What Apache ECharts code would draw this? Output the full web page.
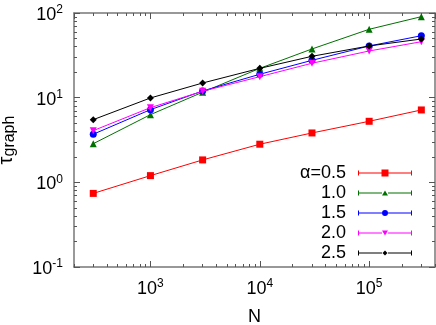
<!DOCTYPE html>
<html>
<head>
<meta charset="utf-8">
<script src="https://cdn.jsdelivr.net/npm/echarts@6/dist/echarts.min.js"></script>
<style>
html,body{margin:0;padding:0;background:#fff;}
#c{width:436px;height:325px;}
</style>
</head>
<body>
<div id="c"></div>
<script>
// ---- data ----
var N = [300, 1000, 3000, 10000, 30000, 100000, 300000];
var seriesNames = ['α=0.5', '1.0', '1.5', '2.0', '2.5'];
var tau05 = [0.74, 1.2, 1.84, 2.82, 3.83, 5.26, 7.16];
var tau10 = [2.86, 6.3, 11.6, 22.2, 37.6, 64.2, 90.5];
var tau15 = [3.70, 7.22, 12.0, 18.9, 27.6, 40.8, 53.9];
var tau20 = [4.08, 7.62, 11.9, 17.7, 25.5, 35.6, 45.8];
var tau25 = [5.50, 9.92, 14.9, 22.2, 30.8, 40.8, 49.3];
var xMinorTicks = [200, 300, 400, 500, 600, 700, 800, 900, 2000, 3000, 4000, 5000, 6000, 7000, 8000, 9000,
  20000, 30000, 40000, 50000, 60000, 70000, 80000, 90000, 200000, 300000, 400000];
var yMinorTicks = [0.2, 0.3, 0.4, 0.5, 0.6, 0.7, 0.8, 0.9, 2, 3, 4, 5, 6, 7, 8, 9, 20, 30, 40, 50, 60, 70, 80, 90];

var colors = ['#ff0000', '#007000', '#0000ff', '#ff00ff', '#000000'];
var symbols = ['rect', 'triangle', 'circle', 'triangle', 'diamond'];
var symbolRot = [0, 0, 0, 180, 0];
var symbolSizes = [7, 7, 7, 7, 7];
var allData = [tau05, tau10, tau15, tau20, tau25];

var capL = 'M0 1H1V6H0Z M1 3H24V4H1Z M30 3H53V4H30Z M53 1H54V6H53Z ';
var legendIcons = [
  'path://' + capL + 'M23.5 0H30.5V7H23.5Z',
  'path://' + capL + 'M24 6L27 0.8L30 6Z',
  'path://' + capL + 'M30 3.5A3 3 0 1 1 24 3.5A3 3 0 1 1 30 3.5Z',
  'path://' + capL + 'M24 1L30 1L27 6.2Z',
  'path://' + capL + 'M27 1L29.5 3.5L27 6L24.5 3.5Z'
];

function pairs(xs, ys) { return xs.map(function (x, i) { return [x, ys[i]]; }); }
function expLabel(v) {
  var e = Math.round(Math.log10(v));
  return '{a|10}{b|' + e + '}';
}
var labelRich = {
  a: { fontSize: 18, lineHeight: 22, fontFamily: 'Liberation Sans', color: '#000' },
  b: { fontSize: 12, lineHeight: 12, verticalAlign: 'top', fontFamily: 'Liberation Sans', color: '#000' }
};
var frame = { show: true, onZero: false, lineStyle: { color: '#777', width: 1.5 } };
var tickColor = '#555';

function xAx(pos, major, withLabel) {
  var ax = {
    type: 'log', min: 200, max: 400000, position: pos, gridIndex: 0,
    axisLine: major ? frame : { show: false },
    axisTick: { show: true, inside: true, length: major ? 6 : 3, lineStyle: { color: tickColor, width: 1 } },
    splitLine: { show: false },
    axisLabel: { show: false }
  };
  if (!major) ax.axisTick.customValues = xMinorTicks;
  if (withLabel) {
    ax.axisLabel = { show: true, margin: 11, showMinLabel: false, showMaxLabel: false, formatter: expLabel, rich: labelRich };
    ax.name = 'N';
    ax.nameLocation = 'middle';
    ax.nameGap = 41;
    ax.nameTextStyle = { fontSize: 18, fontFamily: 'Liberation Sans', color: '#000' };
  }
  return ax;
}
function yAx(pos, major, withLabel) {
  var ax = {
    type: 'log', min: 0.1, max: 100, position: pos, gridIndex: 0,
    axisLine: major ? frame : { show: false },
    axisTick: { show: true, inside: true, length: major ? 6 : 3, lineStyle: { color: tickColor, width: 1 } },
    splitLine: { show: false },
    axisLabel: { show: false }
  };
  if (!major) ax.axisTick.customValues = yMinorTicks;
  if (withLabel) {
    ax.axisLabel = { show: true, margin: 11, padding: [4, 0, 0, 0], formatter: expLabel, rich: labelRich };
    ax.name = '{t|τ}{s|graph}';
    ax.nameLocation = 'middle';
    ax.nameGap = 56;
    ax.nameRotate = 90;
    ax.nameTextStyle = {
      fontFamily: 'Liberation Sans', color: '#000',
      rich: {
        t: { fontSize: 20, lineHeight: 24, fontFamily: 'Liberation Sans', color: '#000' },
        s: { fontSize: 16, lineHeight: 16, verticalAlign: 'bottom', fontFamily: 'Liberation Sans', color: '#000' }
      }
    };
  }
  return ax;
}

var series = allData.map(function (d, i) {
  return {
    name: seriesNames[i], type: 'line', xAxisIndex: 0, yAxisIndex: 0,
    data: pairs(N, d),
    symbol: symbols[i], symbolRotate: symbolRot[i], symbolSize: symbolSizes[i],
    showSymbol: true,
    lineStyle: { color: colors[i], width: 1 },
    itemStyle: { color: colors[i] },
    emphasis: { disabled: true },
    z: 2 + i
  };
});

var chart = echarts.init(document.getElementById('c'), null, { renderer: 'canvas' });
chart.setOption({
  animation: false,
  backgroundColor: '#ffffff',
  grid: { left: 74, right: 1, top: 13, bottom: 58, containLabel: false, outerBoundsMode: 'none' },
  xAxis: [xAx('bottom', true, true), xAx('top', true, false), xAx('bottom', false, false), xAx('top', false, false)],
  yAxis: [yAx('left', true, true), yAx('right', true, false), yAx('left', false, false), yAx('right', false, false)],
  legend: {
    orient: 'vertical', right: 24, top: 163, padding: 0, itemGap: 0,
    itemWidth: 54, itemHeight: 7, align: 'right', symbolKeepAspect: true,
    itemStyle: { borderWidth: 0 },
    textStyle: { fontSize: 18, lineHeight: 20, fontFamily: 'Liberation Sans', color: '#000', padding: [0, 7, 0, 0] },
    data: seriesNames.map(function (n, i) { return { name: n, icon: legendIcons[i] }; }),
    selectedMode: false
  },
  series: series
});
</script>
</body>
</html>
